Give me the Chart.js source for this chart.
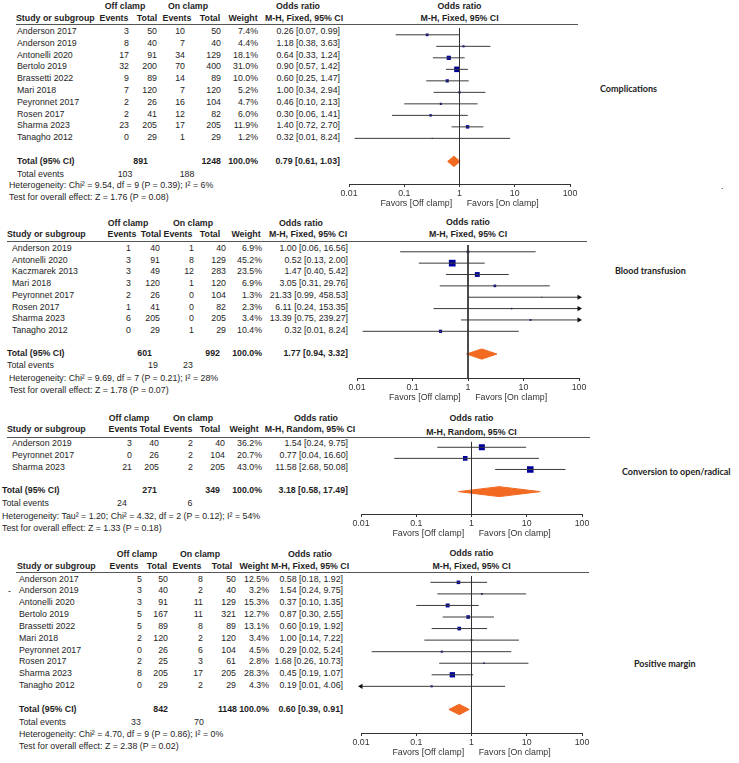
<!DOCTYPE html>
<html>
<head>
<meta charset="utf-8">
<script src="https://cdn.jsdelivr.net/npm/chart.js@4.4.1/dist/chart.umd.min.js"></script>
<style>
body { margin: 0; background: #fff; }
#page { position: relative; width: 739px; height: 763px; overflow: hidden; font-family: "Liberation Sans", Arial, sans-serif; color: #1e1e1e; }
.t { position: absolute; white-space: nowrap; font-size: 8.8px; line-height: 10px; }
.b { font-weight: bold; }
.side { font-family: Lato, sans-serif; font-weight: bold; font-size: 9px; color: #222; }
.rule { position: absolute; height: 1px; background: #555; }
canvas { position: absolute; }
</style>
</head>
<body>
<div id="page"></div>
<script>
const tickValues = [0.01, 0.1, 1, 10, 100];
const tickLabels = ['0.01', '0.1', '1', '10', '100'];
const favorsText = 'Favors [Off clamp]      Favors [On clamp]';

// Complications
const compStudy = ['Anderson 2017', 'Anderson 2019', 'Antonelli 2020', 'Bertolo 2019', 'Brassetti 2022', 'Mari 2018', 'Peyronnet 2017', 'Rosen 2017', 'Sharma 2023', 'Tanagho 2012'];
const compOffEvents = [3, 8, 17, 32, 9, 7, 2, 2, 23, 0];
const compOffTotal = [50, 40, 91, 200, 89, 120, 26, 41, 205, 29];
const compOnEvents = [10, 7, 34, 70, 14, 7, 16, 12, 17, 1];
const compOnTotal = [50, 40, 129, 400, 89, 120, 104, 82, 205, 29];
const compWeight = [7.4, 4.4, 18.1, 31.0, 10.0, 5.2, 4.7, 6.0, 11.9, 1.2];
const compOR = [0.26, 1.18, 0.64, 0.90, 0.60, 1.00, 0.46, 0.30, 1.40, 0.32];
const compLo = [0.07, 0.38, 0.33, 0.57, 0.25, 0.34, 0.10, 0.06, 0.72, 0.0126];
const compHi = [0.99, 3.63, 1.24, 1.42, 1.47, 2.94, 2.13, 1.41, 2.70, 8.24];
const compPooled = [0.79, 0.61, 1.03];
const compSums = [891, 1248];
const compEventSums = [103, 188];
const compHet = 'Heterogeneity: Chi\u00b2 = 9.54, df = 9 (P = 0.39); I\u00b2 = 6%';
const compTest = 'Test for overall effect: Z = 1.76 (P = 0.08)';

// Blood transfusion
const bloodStudy = ['Anderson 2019', 'Antonelli 2020', 'Kaczmarek 2013', 'Mari 2018', 'Peyronnet 2017', 'Rosen 2017', 'Sharma 2023', 'Tanagho 2012'];
const bloodOffEvents = [1, 3, 3, 3, 2, 1, 6, 0];
const bloodOffTotal = [40, 91, 49, 120, 26, 41, 205, 29];
const bloodOnEvents = [1, 8, 12, 1, 0, 0, 0, 1];
const bloodOnTotal = [40, 129, 283, 120, 104, 82, 205, 29];
const bloodWeight = [6.9, 45.2, 23.5, 6.9, 1.3, 2.3, 3.4, 10.4];
const bloodOR = [1.00, 0.52, 1.47, 3.05, 21.33, 6.11, 13.39, 0.32];
const bloodLo = [0.06, 0.13, 0.40, 0.31, 0.99, 0.24, 0.75, 0.0126];
const bloodHi = [16.56, 2.00, 5.42, 29.76, 458.53, 153.35, 239.27, 8.24];
const bloodPooled = [1.77, 0.94, 3.32];
const bloodSums = [601, 992];
const bloodEventSums = [19, 23];
const bloodHet = 'Heterogeneity: Chi\u00b2 = 9.69, df = 7 (P = 0.21); I\u00b2 = 28%';
const bloodTest = 'Test for overall effect: Z = 1.78 (P = 0.07)';

// Conversion to open/radical
const convStudy = ['Anderson 2019', 'Peyronnet 2017', 'Sharma 2023'];
const convOffEvents = [3, 0, 21];
const convOffTotal = [40, 26, 205];
const convOnEvents = [2, 2, 2];
const convOnTotal = [40, 104, 205];
const convWeight = [36.2, 20.7, 43.0];
const convOR = [1.54, 0.77, 11.58];
const convLo = [0.24, 0.04, 2.68];
const convHi = [9.75, 16.60, 50.08];
const convPooled = [3.18, 0.58, 17.49];
const convSums = [271, 349];
const convEventSums = [24, 6];
const convHet = 'Heterogeneity: Tau\u00b2 = 1.20; Chi\u00b2 = 4.32, df = 2 (P = 0.12); I\u00b2 = 54%';
const convTest = 'Test for overall effect: Z = 1.33 (P = 0.18)';

// Positive margin
const marginStudy = ['Anderson 2017', 'Anderson 2019', 'Antonelli 2020', 'Bertolo 2019', 'Brassetti 2022', 'Mari 2018', 'Peyronnet 2017', 'Rosen 2017', 'Sharma 2023', 'Tanagho 2012'];
const marginOffEvents = [5, 3, 3, 5, 5, 2, 0, 2, 8, 0];
const marginOffTotal = [50, 40, 91, 167, 89, 120, 26, 25, 205, 29];
const marginOnEvents = [8, 2, 11, 11, 8, 2, 6, 3, 17, 2];
const marginOnTotal = [50, 40, 129, 321, 89, 120, 104, 61, 205, 29];
const marginWeight = [12.5, 3.2, 15.3, 12.7, 13.1, 3.4, 4.5, 2.8, 28.3, 4.3];
const marginOR = [0.58, 1.54, 0.37, 0.87, 0.60, 1.00, 0.29, 1.68, 0.45, 0.19];
const marginLo = [0.18, 0.24, 0.10, 0.30, 0.19, 0.14, 0.0156, 0.26, 0.19, 0.0086];
const marginHi = [1.92, 9.75, 1.35, 2.55, 1.92, 7.22, 5.24, 10.73, 1.07, 4.06];
const marginPooled = [0.60, 0.39, 0.91];
const marginSums = [842, 1148];
const marginEventSums = [33, 70];
const marginHet = 'Heterogeneity: Chi\u00b2 = 4.70, df = 9 (P = 0.86); I\u00b2 = 0%';
const marginTest = 'Test for overall effect: Z = 2.38 (P = 0.02)';

const page = document.getElementById('page');
const orange = '#f26a22';
const navy = '#00009c';

const panels = [
    {
        label: 'Complications', method: 'M-H, Fixed, 95% CI',
        study: compStudy, offEv: compOffEvents, offTot: compOffTotal, onEv: compOnEvents, onTot: compOnTotal,
        weight: compWeight, or: compOR, lo: compLo, hi: compHi, pooled: compPooled, sums: compSums, evSums: compEventSums,
        het: compHet, test: compTest,
        lay: {
            h1: 6, h2: 18, ruleY: 24, ruleX0: 16, ruleX1: 578, row0: 31, step: 11.8, axisY: 184, x001: 349, x100: 570,
            totY: [161, 174, 185, 197], ph1: 6, ph2: 18, sideX: 600, sideY: 89,
            offHdr: 125, onHdr: 188, orHdr: 298, evOffH: 114, totOffH: 147, evOnH: 177, totOnH: 210, wtH: 243, methodH: 304,
            study: 16, name: 17, offEv: 129, offTot: 157, onEv: 185, onTot: 221, wt: 258, ci: 340,
            totLabel: 17, sumOff: 148, sumOn: 221, evOff: 125, evOn: 187, hetX: 9
        }
    },
    {
        label: 'Blood transfusion', method: 'M-H, Fixed, 95% CI',
        study: bloodStudy, offEv: bloodOffEvents, offTot: bloodOffTotal, onEv: bloodOnEvents, onTot: bloodOnTotal,
        weight: bloodWeight, or: bloodOR, lo: bloodLo, hi: bloodHi, pooled: bloodPooled, sums: bloodSums, evSums: bloodEventSums,
        het: bloodHet, test: bloodTest,
        lay: {
            h1: 223, h2: 234, ruleY: 241, ruleX0: 7, ruleX1: 587, row0: 248, step: 11.7, axisY: 378, x001: 357, x100: 579,
            totY: [353, 365, 378, 390], ph1: 222, ph2: 234, sideX: 615, sideY: 271,
            offHdr: 128, onHdr: 193, orHdr: 301, evOffH: 122, totOffH: 151, evOnH: 178, totOnH: 210, wtH: 246, methodH: 308,
            study: 7, name: 12, offEv: 131, offTot: 160, onEv: 194, onTot: 226, wt: 262, ci: 348,
            totLabel: 7, sumOff: 152, sumOn: 220, evOff: 153, evOn: 188, hetX: 9
        }
    },
    {
        label: 'Conversion to open/radical', method: 'M-H, Random, 95% CI',
        study: convStudy, offEv: convOffEvents, offTot: convOffTotal, onEv: convOnEvents, onTot: convOnTotal,
        weight: convWeight, or: convOR, lo: convLo, hi: convHi, pooled: convPooled, sums: convSums, evSums: convEventSums,
        het: convHet, test: convTest,
        lay: {
            h1: 418, h2: 429, ruleY: 437, ruleX0: 7, ruleX1: 590, row0: 443, step: 11.8, axisY: 514, x001: 361, x100: 582,
            totY: [490, 503, 516, 528], ph1: 418, ph2: 432, sideX: 622, sideY: 472,
            offHdr: 129, onHdr: 193, orHdr: 316, evOffH: 123, totOffH: 150, evOnH: 178, totOnH: 210, wtH: 244, methodH: 310,
            study: 7, name: 12, offEv: 132, offTot: 159, onEv: 193, onTot: 225, wt: 262, ci: 348,
            totLabel: 2, sumOff: 157, sumOn: 220, evOff: 122, evOn: 190, hetX: 2
        }
    },
    {
        label: 'Positive margin', method: 'M-H, Fixed, 95% CI',
        study: marginStudy, offEv: marginOffEvents, offTot: marginOffTotal, onEv: marginOnEvents, onTot: marginOnTotal,
        weight: marginWeight, or: marginOR, lo: marginLo, hi: marginHi, pooled: marginPooled, sums: marginSums, evSums: marginEventSums,
        het: marginHet, test: marginTest,
        lay: {
            h1: 554, h2: 566, ruleY: 572, ruleX0: 16, ruleX1: 589, row0: 578.5, step: 11.85, axisY: 733, x001: 361, x100: 582,
            totY: [709, 722, 734, 746], ph1: 553, ph2: 566, sideX: 634, sideY: 664,
            offHdr: 137, onHdr: 200, orHdr: 310, evOffH: 124, totOffH: 157, evOnH: 187, totOnH: 222, wtH: 254, methodH: 310,
            study: 17, name: 19, offEv: 142, offTot: 168, onEv: 203, onTot: 236, wt: 269, ci: 343,
            totLabel: 19, sumOff: 168, sumOn: 237, evOff: 136, evOn: 199, hetX: 19
        }
    }
];

function txt(x, y, s, align, cls) {
    const d = document.createElement('div');
    d.className = 't' + (cls ? ' ' + cls : '');
    d.textContent = s;
    d.style.left = x + 'px';
    d.style.top = (y - 5) + 'px';
    if (align === 'r') d.style.transform = 'translateX(-100%)';
    if (align === 'c') d.style.transform = 'translateX(-50%)';
    page.appendChild(d);
    return d;
}

function ciText(e, lo, hi) {
    return `${e.toFixed(2)} [${lo.toFixed(2)}, ${hi.toFixed(2)}]`;
}

function makeTable(p) {
    const L = p.lay;
    txt(L.offHdr, L.h1, 'Off clamp', 'c', 'b');
    txt(L.onHdr, L.h1, 'On clamp', 'c', 'b');
    txt(L.orHdr, L.h1, 'Odds ratio', 'c', 'b');
    txt(L.study, L.h2, 'Study or subgroup', 'l', 'b');
    txt(L.evOffH, L.h2, 'Events', 'c', 'b');
    txt(L.totOffH, L.h2, 'Total', 'c', 'b');
    txt(L.evOnH, L.h2, 'Events', 'c', 'b');
    txt(L.totOnH, L.h2, 'Total', 'c', 'b');
    txt(L.wtH, L.h2, 'Weight', 'c', 'b');
    txt(L.methodH, L.h2, p.method, 'c', 'b');

    const r = document.createElement('div');
    r.className = 'rule';
    r.style.left = L.ruleX0 + 'px';
    r.style.top = L.ruleY + 'px';
    r.style.width = (L.ruleX1 - L.ruleX0) + 'px';
    page.appendChild(r);

    p.study.forEach((s, i) => {
        const y = L.row0 + i * L.step;
        txt(L.name, y, s);
        txt(L.offEv, y, String(p.offEv[i]), 'r');
        txt(L.offTot, y, String(p.offTot[i]), 'r');
        txt(L.onEv, y, String(p.onEv[i]), 'r');
        txt(L.onTot, y, String(p.onTot[i]), 'r');
        txt(L.wt, y, p.weight[i].toFixed(1) + '%', 'r');
        txt(L.ci, y, ciText(p.or[i], p.lo[i], p.hi[i]), 'r');
    });

    const [ty, ey, hy, sy] = L.totY;
    txt(L.totLabel, ty, 'Total (95% CI)', 'l', 'b');
    txt(L.sumOff, ty, String(p.sums[0]), 'r', 'b');
    txt(L.sumOn, ty, String(p.sums[1]), 'r', 'b');
    txt(L.wt, ty, '100.0%', 'r', 'b');
    txt(L.ci, ty, ciText(p.pooled[0], p.pooled[1], p.pooled[2]), 'r', 'b');
    txt(L.totLabel, ey, 'Total events');
    txt(L.evOff, ey, String(p.evSums[0]), 'c');
    txt(L.evOn, ey, String(p.evSums[1]), 'c');
    txt(L.hetX, hy, p.het);
    txt(L.hetX, sy, p.test);

    const mid = (L.x001 + L.x100) / 2;
    txt(mid, L.ph1, 'Odds ratio', 'c', 'b');
    txt(mid, L.ph2, p.method, 'c', 'b');
    txt(L.sideX, L.sideY, p.label, 'l', 'side');
}

function makeChart(p) {
    const L = p.lay;
    const pad = 15, axisH = 25;
    const xMin = tickValues[0], xMax = tickValues[tickValues.length - 1];
    const cv = document.createElement('canvas');
    const w = (L.x100 - L.x001) + pad * 2;
    const h = (L.axisY - L.ruleY) + axisH;
    cv.width = w;
    cv.height = h;
    cv.style.left = (L.x001 - pad) + 'px';
    cv.style.top = L.ruleY + 'px';
    cv.style.width = w + 'px';
    cv.style.height = h + 'px';
    page.appendChild(cv);

    const yMin = (L.ruleY - L.row0) / L.step;
    const yMax = (L.axisY - L.row0) / L.step;
    const T = p.study.length + 1;
    const dh = 0.45;

    const datasets = [];
    datasets.push({
        data: [{x: 1, y: yMin}, {x: 1, y: yMax}],
        borderColor: '#333', borderWidth: 1, pointRadius: 0
    });
    p.study.forEach((s, i) => {
        datasets.push({
            data: [{x: Math.max(p.lo[i], xMin), y: i}, {x: Math.min(p.hi[i], xMax), y: i}],
            borderColor: '#3a3a3a', borderWidth: 1,
            pointStyle: 'triangle', pointRotation: [-90, 90],
            pointRadius: [p.lo[i] < xMin ? 3 : 0, p.hi[i] > xMax ? 3 : 0],
            pointBackgroundColor: '#111', pointBorderWidth: 0, clip: false
        });
    });
    datasets.push({
        data: p.or.map((v, i) => ({x: v, y: i})),
        showLine: false, pointStyle: 'rect',
        pointRadius: p.weight.map(wt => Math.sqrt(wt) / Math.SQRT2),
        pointBackgroundColor: navy, pointBorderWidth: 0
    });
    const [e, lo, hi] = p.pooled;
    datasets.push({
        data: [{x: lo, y: T}, {x: e, y: T - dh}, {x: hi, y: T}],
        borderColor: orange, borderWidth: 1, pointRadius: 0, fill: '+1', backgroundColor: orange
    });
    datasets.push({
        data: [{x: lo, y: T}, {x: e, y: T + dh}, {x: hi, y: T}],
        borderColor: orange, borderWidth: 1, pointRadius: 0
    });

    new Chart(cv, {
        type: 'line',
        data: { datasets: datasets },
        options: {
            responsive: false,
            animation: false,
            events: [],
            layout: { padding: { left: pad, right: pad, top: 0, bottom: 0 } },
            plugins: { legend: { display: false }, tooltip: { enabled: false } },
            scales: {
                x: {
                    type: 'logarithmic', min: xMin, max: xMax,
                    afterBuildTicks: sc => { sc.ticks = tickValues.map(v => ({ value: v })); },
                    afterFit: sc => { sc.height = axisH; },
                    ticks: {
                        autoSkip: false, maxRotation: 0, padding: 1, color: '#333',
                        font: { family: '"Liberation Sans", Arial, sans-serif', size: 8.8 },
                        callback: (v, i) => tickLabels[i]
                    },
                    grid: { drawOnChartArea: false, tickLength: 3, color: '#333' },
                    border: { color: '#333' },
                    title: {
                        display: true, text: favorsText, color: '#333', padding: 0,
                        font: { family: '"Liberation Sans", Arial, sans-serif', size: 8.8 }
                    }
                },
                y: { type: 'linear', display: false, reverse: true, min: yMin, max: yMax }
            }
        }
    });
}

panels.forEach(p => {
    makeTable(p);
    makeChart(p);
});

txt(721, 186, '.');
txt(8, 591, '-');
</script>
</body>
</html>
